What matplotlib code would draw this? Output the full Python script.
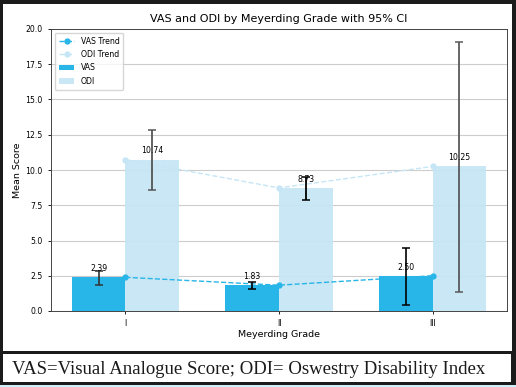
import matplotlib
matplotlib.use("Agg")
import matplotlib.pyplot as plt
from matplotlib.patches import Rectangle
import numpy as np

grades = ["I", "II", "III"]
vas_mean = [2.39, 1.83, 2.50]
vas_ci_low = [1.82, 1.57, 0.42]
vas_ci_high = [2.86, 2.03, 4.50]
odi_mean = [10.74, 8.73, 10.25]
odi_ci_low = [8.58, 7.86, 1.38]
odi_ci_high = [12.85, 9.52, 19.05]

vas_color = "#28b5e8"
odi_color = "#c6e6f5"
vas_err_colors = ["#333333", "black", "black"]
odi_err_colors = ["#555555", "black", "#5a5a5a"]

fig = plt.figure(figsize=(5.16, 3.87), dpi=100)
fig.patch.set_facecolor("#1b1b1b")
W, H = 516, 387
def fr(x0, y0, x1, y1):
    return (x0 / W, 1 - y1 / H), (x1 - x0) / W, (y1 - y0) / H
for (xy, w, h) in [fr(3, 4, 511.5, 351), fr(3, 354, 510.5, 382)]:
    fig.add_artist(Rectangle(xy, w, h, transform=fig.transFigure,
                             facecolor="white", edgecolor="none", zorder=0))
fig.add_artist(Rectangle((0, 0), 1, 2 / H, transform=fig.transFigure,
                         facecolor="#cfeefc", edgecolor="none", zorder=0))

ax = fig.add_axes([51 / W, 1 - 311 / H, (507 - 51) / W, (311 - 29) / H])
x = np.arange(len(grades))
w = 0.35
ax.set_axisbelow(True)
ax.grid(axis="y", color="#cccccc", linewidth=0.8)

b1 = ax.bar(x - w / 2, vas_mean, w, color=vas_color, label="VAS", zorder=2)
b2 = ax.bar(x + w / 2, odi_mean, w, color=odi_color, alpha=0.95, label="ODI", zorder=2)

for i in range(len(grades)):
    ax.errorbar(x[i] - w / 2, vas_mean[i],
                yerr=[[vas_mean[i] - vas_ci_low[i]], [vas_ci_high[i] - vas_mean[i]]],
                fmt="none", ecolor=vas_err_colors[i], capsize=3.2, elinewidth=1.2,
                capthick=1.1, zorder=4)
    ax.errorbar(x[i] + w / 2, odi_mean[i],
                yerr=[[odi_mean[i] - odi_ci_low[i]], [odi_ci_high[i] - odi_mean[i]]],
                fmt="none", ecolor=odi_err_colors[i], capsize=3.2, elinewidth=1.3,
                capthick=1.1, zorder=4)

l1, = ax.plot(x, vas_mean, "--o", color=vas_color, markersize=3.5, linewidth=1.0,
              label="VAS Trend", zorder=3)
l2, = ax.plot(x, odi_mean, "--o", color=odi_color, markersize=3.5, linewidth=1.0,
              label="ODI Trend", zorder=3)

for i in range(len(grades)):
    ax.text(x[i] - w / 2, vas_mean[i] + 0.3, f"{vas_mean[i]:.2f}", ha="center",
            va="bottom", fontsize=5.6, zorder=5)
    ax.text(x[i] + w / 2, odi_mean[i] + 0.3, f"{odi_mean[i]:.2f}", ha="center",
            va="bottom", fontsize=5.6, zorder=5)

ax.set_ylim(0, 20)
ax.set_yticks(np.arange(0, 20.1, 2.5))
ax.set_xticks(x)
ax.set_xticklabels(grades)
ax.tick_params(labelsize=5.6, length=2.5, width=0.6)
for s in ax.spines.values():
    s.set_linewidth(0.7)
    s.set_color("#444444")
ax.set_xlabel("Meyerding Grade", fontsize=6.8, labelpad=1.5)
ax.set_ylabel("Mean Score", fontsize=6.8, labelpad=2.5)
ax.set_title("VAS and ODI by Meyerding Grade with 95% CI", fontsize=8, pad=5)
ax.legend(handles=[l1, l2, b1, b2], loc="upper left", fontsize=5.6,
          framealpha=0.8, borderpad=0.5, labelspacing=0.55, handlelength=2.0)

fig.text(12 / W, 1 - 369 / H, "VAS=Visual Analogue Score; ODI= Oswestry Disability Index",
         fontfamily="Liberation Serif", fontsize=13.5, va="center", ha="left",
         color="#1a1a1a")

fig.savefig("out.png", dpi=100, facecolor=fig.get_facecolor())
